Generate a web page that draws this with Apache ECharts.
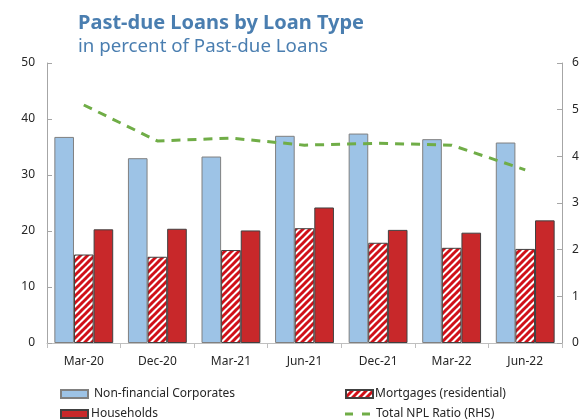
<!DOCTYPE html>
<html>
<head>
<meta charset="utf-8">
<script src="https://cdn.jsdelivr.net/npm/echarts@6/dist/echarts.min.js"></script>
<style>
  html, body { margin: 0; padding: 0; background: #fff; }
  #chart { width: 586px; height: 419px; }
</style>
</head>
<body>
<div id="chart"></div>
<script>
// Quarterly data
const categories = ['Mar-20', 'Dec-20', 'Mar-21', 'Jun-21', 'Dec-21', 'Mar-22', 'Jun-22'];
const corporates = [36.8, 33.0, 33.3, 37.0, 37.4, 36.4, 35.8];
const mortgages  = [15.8, 15.4, 16.6, 20.5, 17.9, 17.0, 16.8];
const households = [20.3, 20.4, 20.1, 24.2, 20.2, 19.7, 21.9];
const nplRatio   = [5.10, 4.33, 4.39, 4.24, 4.28, 4.24, 3.71];

const FONT = 'Noto Sans';
const TEXT = '#262626';
const TITLE_COLOR = '#4A7EB0';
const GREEN = '#70AD47';

// Red/white diagonal hatch tile for the mortgage bars
function hatchPattern() {
  const s = 7;
  const c = document.createElement('canvas');
  c.width = s; c.height = s;
  const g = c.getContext('2d');
  g.fillStyle = '#ffffff';
  g.fillRect(0, 0, s, s);
  g.strokeStyle = '#D01018';
  g.lineWidth = 3;
  for (const k of [-s, 0, s]) {
    g.beginPath();
    g.moveTo(k - 1, s + 1);
    g.lineTo(k + s + 1, -1);
    g.stroke();
  }
  return { image: c, repeat: 'repeat' };
}

const chart = echarts.init(document.getElementById('chart'), null, { renderer: 'canvas' });

function legendAt(left, top, name, textGap, extra) {
  return Object.assign({
    orient: 'horizontal',
    left: left, top: top,
    padding: 0,
    itemWidth: 27,
    itemHeight: 8,
    icon: 'rect',
    data: [name],
    textStyle: { fontFamily: FONT, fontSize: 12, color: TEXT, padding: [0, 0, 0, textGap - 5] }
  }, extra || {});
}

chart.setOption({
  animation: false,
  textStyle: { fontFamily: FONT },
  title: [
    {
      text: 'Past-due Loans by Loan Type',
      left: 78, top: 13, padding: 0,
      textStyle: { fontFamily: FONT, fontSize: 20, fontWeight: 'bold', color: TITLE_COLOR }
    },
    {
      text: 'in percent of Past-due Loans',
      left: 78, top: 37, padding: 0,
      textStyle: { fontFamily: FONT, fontSize: 18.7, fontWeight: 'normal', color: TITLE_COLOR }
    }
  ],
  legend: [
    legendAt(60, 388, 'Non-financial Corporates', 6),
    legendAt(345, 388, 'Mortgages (residential)', 2),
    legendAt(60, 408, 'Households', 3),
    legendAt(345, 408, 'Total NPL Ratio (RHS)', 6, {
      itemWidth: 25, itemHeight: 3,
      icon: 'path://M0,0H8V3H0Z M17,0H25V3H17Z'
    })
  ],
  grid: { left: 47, right: 24, top: 63, bottom: 76, containLabel: false },
  xAxis: {
    type: 'category',
    data: categories,
    axisLine: { lineStyle: { color: '#BFBFBF', width: 1 } },
    axisTick: { show: true, inside: false, length: 5, lineStyle: { color: '#BFBFBF' } },
    axisLabel: { fontFamily: FONT, fontSize: 12, color: TEXT, margin: 13 }
  },
  yAxis: [
    {
      type: 'value', min: 0, max: 50, interval: 10,
      axisLine: { show: true, lineStyle: { color: '#A6A6A6' } },
      axisTick: { show: true, inside: true, length: 5, lineStyle: { color: '#A6A6A6' } },
      axisLabel: { fontFamily: FONT, fontSize: 12, color: TEXT, margin: 12 },
      splitLine: { show: false }
    },
    {
      type: 'value', min: 0, max: 6, interval: 1,
      axisLine: { show: true, lineStyle: { color: '#A6A6A6' } },
      axisTick: { show: true, inside: true, length: 5, lineStyle: { color: '#A6A6A6' } },
      axisLabel: { fontFamily: FONT, fontSize: 12, color: TEXT, margin: 10 },
      splitLine: { show: false }
    }
  ],
  series: [
    {
      name: 'Non-financial Corporates',
      type: 'bar',
      data: corporates,
      barGap: '0%',
      barCategoryGap: '20%',
      itemStyle: { color: '#9DC3E6', borderColor: '#808080', borderWidth: 1 }
    },
    {
      name: 'Mortgages (residential)',
      type: 'bar',
      data: mortgages,
      barGap: '0%',
      barCategoryGap: '20%',
      itemStyle: { color: hatchPattern(), borderColor: '#404040', borderWidth: 1 }
    },
    {
      name: 'Households',
      type: 'bar',
      data: households,
      barGap: '0%',
      barCategoryGap: '20%',
      itemStyle: { color: '#C8282A', borderColor: '#404040', borderWidth: 1 }
    },
    {
      name: 'Total NPL Ratio (RHS)',
      type: 'line',
      yAxisIndex: 1,
      data: nplRatio,
      symbol: 'none',
      itemStyle: { color: GREEN },
      lineStyle: { color: GREEN, width: 3, type: [9, 7] }
    }
  ]
});
</script>
</body>
</html>
